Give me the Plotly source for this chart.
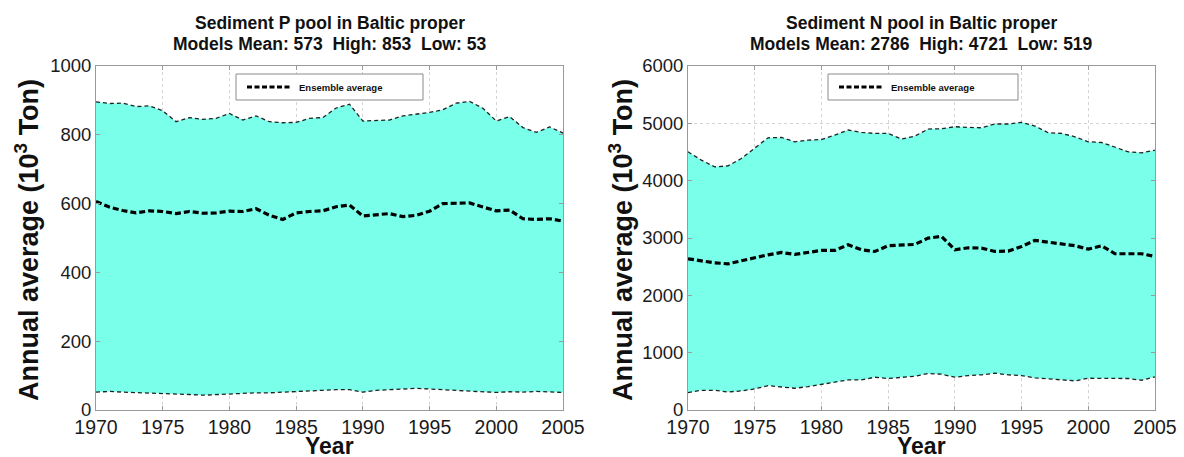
import plotly.graph_objects as go

W, H = 1184, 457

years = list(range(1970, 2006))

p_high = [896, 891, 892, 882, 884, 870, 838, 850, 845, 848,
          862, 843, 855, 838, 835, 836, 848, 850, 878, 889,
          840, 842, 843, 855, 859, 865, 873, 892, 897, 877,
          840, 853, 821, 807, 823, 805]
p_mean = [606, 590, 580, 573, 579, 577, 571, 577, 572, 573,
          578, 577, 585, 566, 554, 573, 577, 579, 591, 596,
          564, 567, 571, 562, 566, 578, 600, 601, 602, 590,
          579, 581, 556, 554, 556, 549]
p_low = [52, 54, 52, 51, 50, 48, 48, 45, 43, 45,
         48, 50, 50, 50, 52, 54, 55, 57, 59, 59,
         52, 57, 59, 61, 63, 61, 59, 57, 54, 51,
         51, 53, 52, 54, 53, 51]

n_high = [4503, 4358, 4241, 4258, 4387, 4562, 4748, 4754, 4678, 4707,
          4718, 4795, 4883, 4842, 4824, 4824, 4725, 4777, 4900, 4906,
          4941, 4929, 4923, 4988, 4988, 5017, 4953, 4836, 4824, 4766,
          4678, 4666, 4590, 4503, 4486, 4532]
n_mean = [2637, 2596, 2567, 2550, 2608, 2655, 2707, 2748, 2713, 2748,
          2783, 2783, 2882, 2795, 2765, 2865, 2882, 2888, 2998, 3028,
          2795, 2830, 2824, 2765, 2771, 2853, 2958, 2923, 2900, 2865,
          2806, 2865, 2725, 2725, 2725, 2678]
n_low = [303, 344, 344, 315, 333, 368, 426, 408, 379, 408,
         449, 490, 525, 525, 572, 549, 566, 589, 636, 624,
         572, 601, 613, 642, 613, 601, 560, 543, 513, 508,
         554, 554, 549, 549, 519, 578]

titles = [["Sediment P pool in Baltic proper", "Models Mean: 573  High: 853  Low: 53"],
          ["Sediment N pool in Baltic proper", "Models Mean: 2786  High: 4721  Low: 519"]]
y_ranges = [[0, 1000], [0, 6000]]
y_dticks = [200, 1000]
x_label = "Year"
y_label = "Annual average (10<sup>3</sup> Ton)"
legend_label = "Ensemble average"

FILL = "rgb(122,255,234)"
FONT = "Liberation Sans, Arial, sans-serif"


def px(x):
    return x / W


def py(y):
    return 1 - y / H


fig = go.Figure()

panels = [(p_low, p_high, p_mean), (n_low, n_high, n_mean)]
x_dom = [(96, 563), (688, 1155)]
y_dom = (66, 410)

for i, (low, high, mean) in enumerate(panels):
    xa = "x" if i == 0 else "x2"
    ya = "y" if i == 0 else "y2"
    fig.add_trace(go.Scatter(x=years, y=low, mode="lines", xaxis=xa, yaxis=ya,
                             line=dict(color="#222222", width=1.3, dash="4px,3px"),
                             showlegend=False, hoverinfo="skip"))
    fig.add_trace(go.Scatter(x=years, y=high, mode="lines", xaxis=xa, yaxis=ya,
                             fill="tonexty", fillcolor=FILL,
                             line=dict(color="#222222", width=1.3, dash="4px,3px"),
                             showlegend=False, hoverinfo="skip"))
    fig.add_trace(go.Scatter(x=years, y=mean, mode="lines", xaxis=xa, yaxis=ya,
                             line=dict(color="black", width=3.2, dash="6px,3px"),
                             name=legend_label, showlegend=False))

axis_common = dict(showline=True, mirror="ticks", linecolor="#9a9a9a", linewidth=1,
                   ticks="inside", ticklen=4, tickcolor="#9a9a9a", automargin=False,
                   showgrid=True, gridcolor="#d4d4d4", griddash="dot", gridwidth=1,
                   zeroline=False, color="#1a1a1a")

layout = dict(width=W, height=H, margin=dict(l=0, r=0, t=0, b=0, autoexpand=False),
              paper_bgcolor="white", plot_bgcolor="white",
              font=dict(family=FONT, color="#1a1a1a"), showlegend=False)

for i in range(2):
    sx = "" if i == 0 else "2"
    layout["xaxis" + sx] = dict(axis_common, domain=[px(x_dom[i][0]), px(x_dom[i][1])],
                                range=[1970, 2005], dtick=5, tick0=1970,
                                anchor="y" + sx, tickfont=dict(size=19.5, family=FONT))
    layout["yaxis" + sx] = dict(axis_common, domain=[py(y_dom[1]), py(y_dom[0])],
                                range=y_ranges[i], dtick=y_dticks[i],
                                anchor="x" + sx, tickfont=dict(size=18.5, family=FONT))

fig.update_layout(**layout)

annotations = []
shapes = []
legend_boxes = [(236, 423), (828, 1018)]
ylab_x = [27, 621]
for i in range(2):
    cx = (x_dom[i][0] + x_dom[i][1]) / 2
    annotations.append(dict(text="<b>%s</b>" % titles[i][0], x=px(cx), y=py(23),
                            xref="paper", yref="paper", showarrow=False,
                            xanchor="center", yanchor="middle",
                            font=dict(size=17.5, family=FONT, color="#111")))
    annotations.append(dict(text="<b>%s</b>" % titles[i][1], x=px(cx), y=py(44),
                            xref="paper", yref="paper", showarrow=False,
                            xanchor="center", yanchor="middle",
                            font=dict(size=17.5, family=FONT, color="#111")))
    annotations.append(dict(text="<b>%s</b>" % x_label, x=px(cx), y=py(446),
                            xref="paper", yref="paper", showarrow=False,
                            xanchor="center", yanchor="middle",
                            font=dict(size=23, family=FONT, color="#111")))
    annotations.append(dict(text="<b>%s</b>" % y_label, x=px(ylab_x[i]),
                            y=py((y_dom[0] + y_dom[1]) / 2 + 2),
                            xref="paper", yref="paper", showarrow=False, textangle=-90,
                            xanchor="center", yanchor="middle",
                            font=dict(size=27, family=FONT, color="#111")))
    bx0, bx1 = legend_boxes[i]
    shapes.append(dict(type="rect", xref="paper", yref="paper",
                       x0=px(bx0), x1=px(bx1), y0=py(100), y1=py(74),
                       line=dict(color="#8a8a8a", width=1), fillcolor="white", layer="above"))
    shapes.append(dict(type="line", xref="paper", yref="paper",
                       x0=px(bx0 + 11), x1=px(bx0 + 55), y0=py(87), y1=py(87),
                       line=dict(color="black", width=3, dash="5px,2.5px"), layer="above"))
    annotations.append(dict(text="<b>%s</b>" % legend_label, x=px(bx0 + 61), y=py(87),
                            xref="paper", yref="paper", showarrow=False,
                            xanchor="left", yanchor="middle",
                            font=dict(size=9.5, family=FONT, color="#111")))

fig.update_layout(annotations=annotations, shapes=shapes)

fig.write_html("out.html")
